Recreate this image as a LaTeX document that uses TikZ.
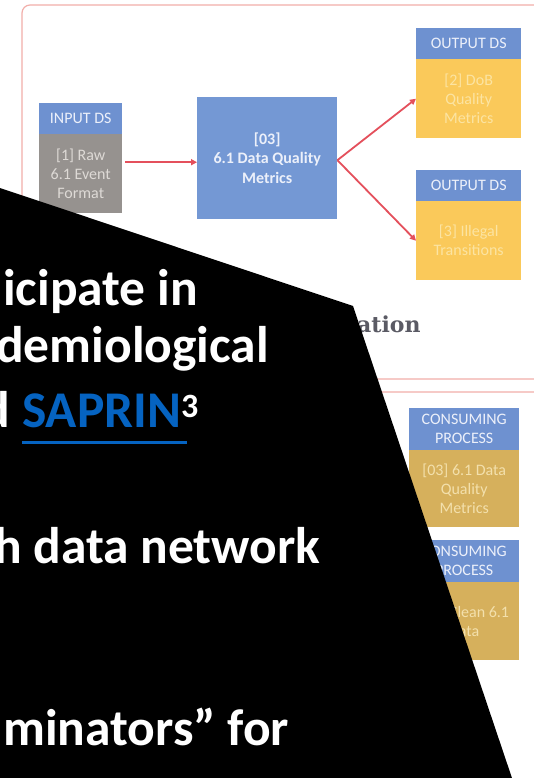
\documentclass[tikz,border=0pt]{standalone}
\usepackage{fontspec}
\setmainfont{Carlito}
\newfontfamily\headserif{DejaVu Serif}
\usetikzlibrary{arrows.meta}
\definecolor{hblue}{RGB}{110,145,208}
\definecolor{cblue}{RGB}{116,152,212}
\definecolor{htext}{RGB}{236,240,250}
\definecolor{graybody}{RGB}{150,146,143}
\definecolor{graytext}{RGB}{222,218,214}
\definecolor{yelbody}{RGB}{250,201,90}
\definecolor{yeltext}{RGB}{252,228,162}
\definecolor{goldbody}{RGB}{214,176,92}
\definecolor{goldtext}{RGB}{243,224,172}
\definecolor{arrred}{RGB}{228,80,92}
\definecolor{framered}{RGB}{242,175,170}
\definecolor{sapblue}{RGB}{5,99,193}
\definecolor{titlegray}{RGB}{90,90,100}
\begin{document}
\begin{tikzpicture}[x=1pt,y=-1pt,
  boxbase/.style={anchor=north west,inner sep=0pt,align=center,font=\fontsize{16}{19}\selectfont},
  hdr/.style={boxbase,fill=hblue,text=htext},
  graybox/.style={boxbase,fill=graybody,text=graytext},
  yelbox/.style={boxbase,fill=yelbody,text=yeltext},
  goldbox/.style={boxbase,fill=goldbody,text=goldtext},
  procbox/.style={boxbase,fill=cblue,text=htext,font=\bfseries\fontsize{16}{19.5}\selectfont},
  arr/.style={draw=arrred,line width=1.8pt,-{Triangle[length=6pt,width=6pt]}},
  frame/.style={draw=framered,line width=1.2pt,rounded corners=8pt},
  bigtxt/.style={anchor=base west,inner sep=0pt,text=white,font=\bfseries\fontsize{51.5}{60}\selectfont}
]
\useasboundingbox (0,0) rectangle (534,778);
\fill[white] (0,0) rectangle (534,778);
\begin{scope}
\clip (0,0) rectangle (534,778);
% frames
\draw[frame] (22,5) rectangle (570,379);
\draw[frame] (22,392) rectangle (570,820);
% input
\node[hdr,minimum width=83pt,minimum height=31pt] (inhdr) at (39,103) {INPUT DS};
\node[graybox,minimum width=83pt,minimum height=79pt] (inbody) at (39,134) {[1] Raw\\6.1 Event\\Format};
% central process
\node[procbox,minimum width=140pt,minimum height=122pt] (cen) at (197,97) {[03]\\6.1 Data Quality\\Metrics};
% outputs
\node[hdr,minimum width=105pt,minimum height=31pt] (o1hdr) at (416,28) {OUTPUT DS};
\node[yelbox,minimum width=105pt,minimum height=79pt] (o1body) at (416,59) {[2] DoB\\Quality\\Metrics};
\node[hdr,minimum width=105pt,minimum height=31pt] (o2hdr) at (416,170) {OUTPUT DS};
\node[yelbox,minimum width=105pt,minimum height=79pt] (o2body) at (416,201) {[3] Illegal\\Transitions};
% connectors
\draw[arr] ([yshift=11.5pt,xshift=3pt]inbody.east) -- ([yshift=-4pt]cen.west);
\draw[arr] ([yshift=-2pt]cen.east) -- (o1body.west);
\draw[arr] ([yshift=-2pt]cen.east) -- (o2body.west);
% heading
\node[anchor=base west,inner sep=0pt,text=titlegray,font=\headserif\bfseries\fontsize{22}{26}\selectfont] (ttl) at (357,332) {ation};
% consuming processes
\node[hdr,minimum width=110pt,minimum height=42pt] (c1hdr) at (409,408) {CONSUMING\\PROCESS};
\node[goldbox,minimum width=110pt,minimum height=77pt] (c1body) at (409,450) {[03] 6.1 Data\\Quality\\Metrics};
\node[hdr,minimum width=110pt,minimum height=42pt] (c2hdr) at (409,540) {CONSUMING\\PROCESS};
\node[goldbox,minimum width=110pt,minimum height=78pt] (c2body) at (409,582) {\hphantom{[04] }Clean 6.1\\Data};
% black overlay
\fill[black] (0,188) -- (353,306) -- (516,790) -- (-5,790) -- cycle;
% overlay text
\node[bigtxt] (t1) at (3,305) {icipate in};
\node[bigtxt] (t2) at (-4,362) {demiological};
\node[bigtxt] (t3) at (-18,427) {d};
\node[bigtxt,text=sapblue] (sap) at (22,427) {SAPRIN};
\node[anchor=base west,inner sep=0pt,text=white,font=\bfseries\fontsize{34}{40}\selectfont] (sup) at (181,417) {3};
\draw[sapblue,line width=3pt] ([yshift=-15pt]sap.base west) -- ([yshift=-15pt,xshift=6pt]sap.base east);
\node[bigtxt] (t4) at (-6,563) {h data network};
\node[bigtxt] (t5) at (3,745) {minators” for};
\end{scope}
\end{tikzpicture}
\end{document}
